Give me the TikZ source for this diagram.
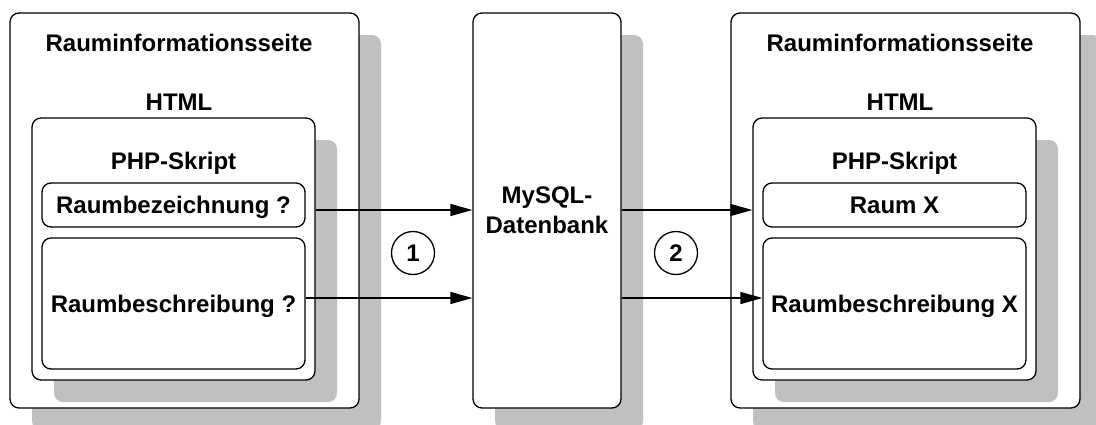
\documentclass[tikz,border=0pt]{standalone}
\usepackage{fontspec}
\setmainfont{Liberation Sans}
\usetikzlibrary{arrows.meta,positioning,shadows}
\definecolor{my_gray}{RGB}{192, 192, 192}
\tikzset{
  kasten/.style = {draw, rounded corners=9pt, fill=white, line width=1.3pt, inner sep=0pt},
  schatten/.style = {drop shadow={shadow xshift=22pt, shadow yshift=-22pt, fill=my_gray, opacity=1}},
  beschr/.style = {font=\fontsize{24}{30}\selectfont\bfseries, text height=17pt, text depth=0pt, inner sep=0pt},
  feld/.style = {kasten, beschr, minimum width=263pt}
}

\begin{document}
\begin{tikzpicture}[x=1pt, y=-1pt, >={Triangle[length=22pt,width=12pt]},
        pfeil/.style={->, line width=1.3pt},
        kreis/.style={draw, circle, line width=1.3pt, minimum size=43pt, inner sep=0pt,
          font=\fontsize{24}{30}\selectfont\bfseries}]
  \useasboundingbox (0,0) rectangle (1096,424);
  % linke Seite
  \node (seiteL) [kasten, schatten, minimum width=349pt, minimum height=395pt] at (184.5,210.5) {};
  \node (titelL) [beschr, xshift=-5.5pt, yshift=-31pt] at (seiteL.north) {Rauminformationsseite};
  \node (htmlL) [beschr, xshift=-5.5pt, yshift=-90pt] at (seiteL.north) {HTML};
  \node (phpL) [kasten, schatten, minimum width=283pt, minimum height=262pt] at (173.5,249) {};
  \node (skriptL) [beschr, yshift=-44pt] at (phpL.north) {PHP-Skript};
  \node (bezL) [feld, minimum height=44pt] at (173.5,205) {Raumbezeichnung ?};
  \node (beschL) [feld, minimum height=131pt] at (173.5,303.5) {Raumbeschreibung ?};
  % Datenbank
  \node (db) [kasten, schatten, minimum width=148pt, minimum height=395pt, align=center,
    font=\fontsize{24}{30}\selectfont\bfseries] at (547,210.5) {MySQL-\\Datenbank};
  % rechte Seite
  \node (seiteR) [kasten, schatten, minimum width=349pt, minimum height=395pt] at (905.5,210.5) {};
  \node (titelR) [beschr, xshift=-5.5pt, yshift=-31pt] at (seiteR.north) {Rauminformationsseite};
  \node (htmlR) [beschr, xshift=-5.5pt, yshift=-90pt] at (seiteR.north) {HTML};
  \node (phpR) [kasten, schatten, minimum width=283pt, minimum height=262pt] at (894.5,249) {};
  \node (skriptR) [beschr, yshift=-44pt] at (phpR.north) {PHP-Skript};
  \node (bezR) [feld, minimum height=44pt] at (894.5,205) {Raum X};
  \node (beschR) [feld, minimum height=131pt] at (894.5,303.5) {Raumbeschreibung X};
  % Schritte
  \node (schritt1) [kreis] at (413,253) {1};
  \node (schritt2) [kreis] at (676,253) {2};
  % Pfeile
  \coordinate (hoehe1) at (0,210);
  \coordinate (hoehe2) at (0,298);
  \draw[pfeil] (phpL.east |- hoehe1) -- (db.west |- hoehe1);
  \draw[pfeil] (beschL.east |- hoehe2) -- (db.west |- hoehe2);
  \draw[pfeil] (db.east |- hoehe1) -- (phpR.west |- hoehe1);
  \draw[pfeil] (db.east |- hoehe2) -- (beschR.west |- hoehe2);
\end{tikzpicture}
\end{document}
